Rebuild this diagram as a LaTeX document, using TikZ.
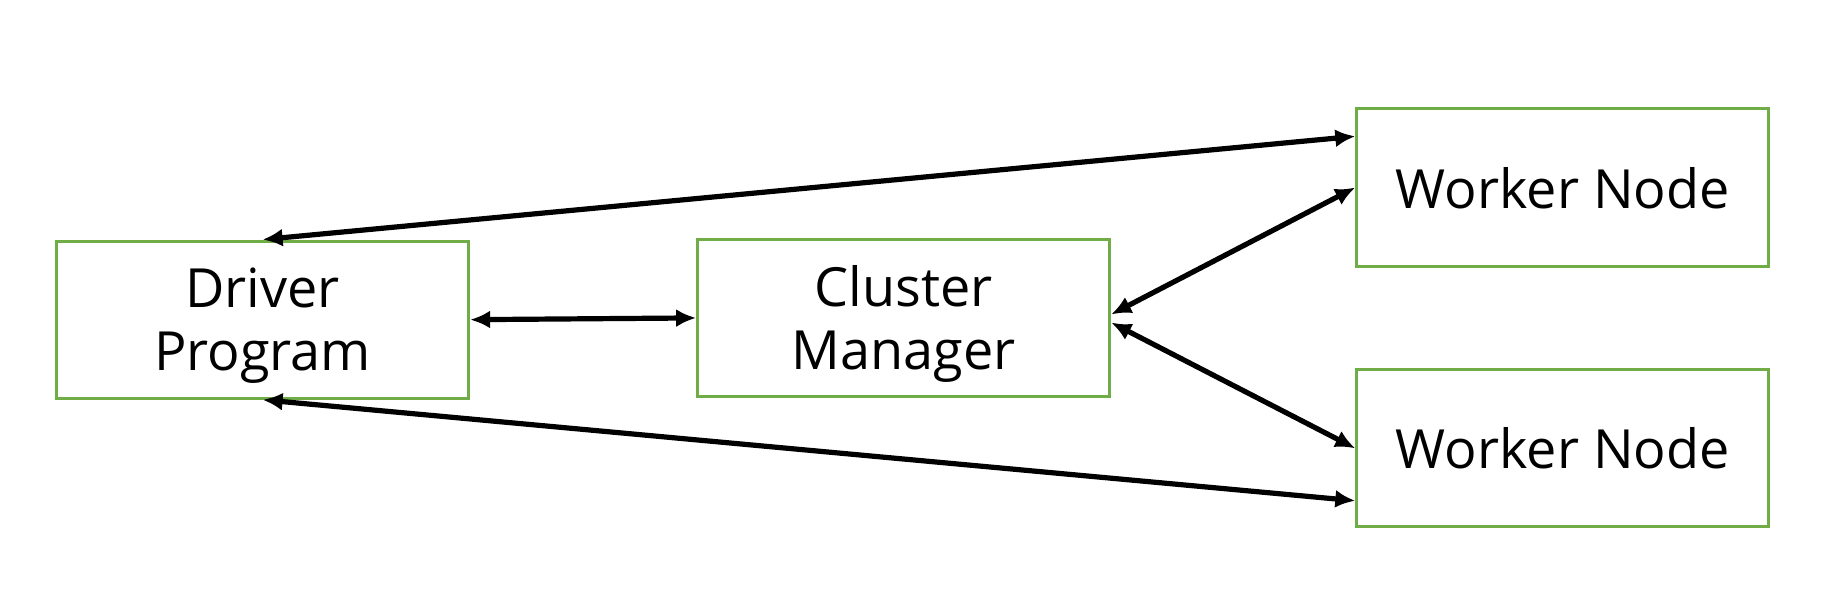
\documentclass[tikz,border=0pt]{standalone}
\usepackage{fontspec}
\setmainfont{Open Sans}
\usetikzlibrary{arrows.meta}
\definecolor{boxgreen}{HTML}{70AD47}
\tikzset{
  blockbox/.style={draw=boxgreen, line width=1.5pt, minimum width=206pt, minimum height=78.6pt,
    align=center, font=\fontsize{27}{31.5}\selectfont, inner sep=0pt, text depth=0pt},
  link/.style={<->, line width=2.6pt, >={Latex[length=10pt,width=9pt]}}
}
\begin{document}
\begin{tikzpicture}[x=0.58225pt,y=-0.58225pt]
  \useasboundingbox (0,0) rectangle (1568,510);
  \node[blockbox] at (225.5,274.5) (driver) {Driver\\Program};
  \node[blockbox] at (776,273) (cluster) {Cluster\\Manager};
  \node[blockbox] at (1342,161) (worker1) {Worker Node};
  \node[blockbox] at (1342,385) (worker2) {Worker Node};

  % draw edges
  \draw[link] (driver.north) -- ([yshift=25.6pt]worker1.west);
  \draw[link] (driver.south) -- ([yshift=-26.2pt]worker2.west);
  \draw[link] (driver.east) -- (cluster.west);
  \draw[link] ([yshift=1.75pt]cluster.east) -- (worker1.west);
  \draw[link] ([yshift=-2.3pt]cluster.east) -- (worker2.west);
\end{tikzpicture}
\end{document}
